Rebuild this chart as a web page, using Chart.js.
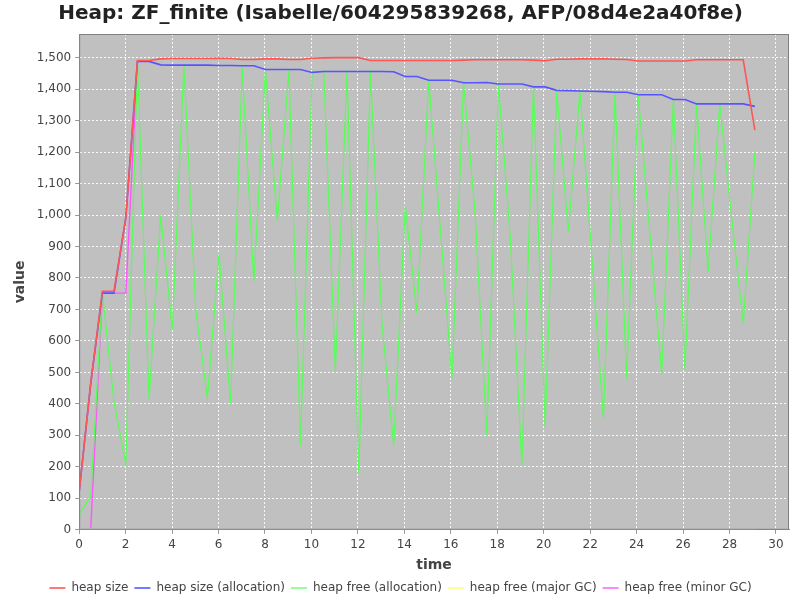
<!DOCTYPE html>
<html lang="en">
<head>
  <meta charset="UTF-8">
  <title>Heap: ZF_finite</title>
  <script src="https://cdn.jsdelivr.net/npm/chart.js"></script>
  <style>
    html, body {
      margin: 0;
      padding: 0;
      background: #fff;
    }
    #chart {
      display: block;
    }
  </style>
</head>
<body>
  <canvas id="chart" width="800" height="600"></canvas>

  <script>
    var times = [0, 0.5, 1.0, 1.5, 2.01, 2.51, 3.01, 3.51, 4.01, 4.51,
      5.02, 5.52, 6.02, 6.52, 7.02, 7.52, 8.02, 8.53, 9.03, 9.53,
      10.03, 10.53, 11.03, 11.53, 12.04, 12.54, 13.04, 13.54, 14.04, 14.54,
      15.05, 15.55, 16.05, 16.55, 17.05, 17.55, 18.05, 18.56, 19.06, 19.56,
      20.06, 20.56, 21.06, 21.56, 22.07, 22.57, 23.07, 23.57, 24.07, 24.57,
      25.08, 25.58, 26.08, 26.58, 27.08, 27.58, 28.08, 28.59, 29.09];

    var heapSize = [120, 466, 758, 758, 992, 1491, 1491, 1496, 1497, 1497,
      1497, 1497, 1498, 1497, 1494, 1494, 1496, 1496, 1494, 1494,
      1498, 1499, 1500, 1500, 1500, 1491, 1491, 1491, 1491, 1491,
      1491, 1491, 1491, 1492, 1493, 1493, 1493, 1493, 1493, 1492,
      1490, 1495, 1495, 1496, 1496, 1496, 1495, 1494, 1489, 1489,
      1489, 1489, 1489, 1493, 1493, 1493, 1493, 1493, 1270];

    var heapSizeAlloc = [120, 466, 752, 752, 992, 1488, 1488, 1477, 1476, 1476,
      1476, 1476, 1475, 1475, 1474, 1474, 1462, 1462, 1462, 1462,
      1453, 1456, 1456, 1456, 1456, 1456, 1456, 1455, 1440, 1440,
      1428, 1428, 1428, 1420, 1420, 1421, 1416, 1416, 1416, 1407,
      1407, 1396, 1395, 1394, 1393, 1392, 1390, 1390, 1382, 1382,
      1382, 1367, 1367, 1353, 1353, 1353, 1353, 1353, 1345];

    var heapFreeAlloc = [50, 107, 755, 406, 210, 1489, 413, 999, 635, 1475,
      700, 418, 875, 402, 1470, 788, 1460, 981, 1459, 269,
      1452, 1456, 503, 1454, 179, 1454, 652, 269, 1029, 689,
      1428, 955, 481, 1420, 1002, 301, 1414, 930, 205, 1406,
      327, 1394, 947, 1394, 870, 354, 1390, 481, 1382, 940,
      494, 1366, 508, 1353, 820, 1353, 1000, 654, 1199];

    var heapFreeMajor = [0, 0, 0, 0, 0, 0, 0, 0, 0, 0,
      0, 0, 0, 0, 0, 0, 0, 0, 0, 0,
      0, 0, 0, 0, 0, 0, 0, 0, 0, 0,
      0, 0, 0, 0, 0, 0, 0, 0, 0, 0,
      0, 0, 0, 0, 0, 0, 0, 0, 0, 0,
      0, 0, 0, 0, 0, 0, 0, 0, 0];

    var heapFreeMinor = [null, 5, 752, 752, 752, 1488];

    var seriesNames = ['heap size', 'heap size (allocation)', 'heap free (allocation)',
      'heap free (major GC)', 'heap free (minor GC)'];

    function points(vals) {
      var out = [];
      for (var i = 0; i < vals.length; i++) {
        if (vals[i] !== null) out.push({ x: times[i], y: vals[i] });
      }
      return out;
    }

    function series(name, vals, color, width) {
      return {
        label: name,
        data: points(vals),
        borderColor: color,
        backgroundColor: color,
        borderWidth: width,
        pointRadius: 0,
        fill: false,
        tension: 0
      };
    }

    // grey plot area with outline, like the original renderer
    var plotBackground = {
      id: 'plotBackground',
      beforeDraw: function(chart) {
        var a = chart.chartArea;
        var ctx = chart.ctx;
        ctx.save();
        ctx.fillStyle = '#c0c0c0';
        ctx.fillRect(a.left, a.top, a.right - a.left, a.bottom - a.top);
        ctx.restore();
      },
      afterDraw: function(chart) {
        var a = chart.chartArea;
        var ctx = chart.ctx;
        ctx.save();
        ctx.strokeStyle = '#808080';
        ctx.lineWidth = 1;
        ctx.strokeRect(a.left + 0.5, a.top + 0.5, a.right - a.left - 1, a.bottom - a.top - 1);
        ctx.restore();
      }
    };

    var font = "'DejaVu Sans', sans-serif";

    var ctx = document.getElementById('chart').getContext('2d');
    var chart = new Chart(ctx, {
      type: 'line',
      data: {
        datasets: [
          series(seriesNames[0], heapSize, '#ff5555', 1.6),
          series(seriesNames[1], heapSizeAlloc, '#5555ff', 1.6),
          series(seriesNames[2], heapFreeAlloc, '#55ff55', 1.2),
          series(seriesNames[3], heapFreeMajor, '#ffff55', 1.2),
          series(seriesNames[4], heapFreeMinor, '#ff55ff', 1.4)
        ]
      },
      options: {
        responsive: false,
        animation: false,
        devicePixelRatio: 1,
        layout: {
          padding: { left: 12, right: 11, top: 0, bottom: -4 }
        },
        scales: {
          x: {
            type: 'linear',
            min: 0,
            max: 30.56,
            title: {
              display: true,
              text: 'time',
              color: '#444',
              font: { family: font, size: 14, weight: 'bold' },
              padding: { top: 1, bottom: 2 }
            },
            ticks: {
              stepSize: 2,
              includeBounds: false,
              color: '#444',
              font: { family: font, size: 12 },
              maxRotation: 0,
              padding: 4
            },
            grid: {
              color: 'rgba(255,255,255,0.9)',
              lineWidth: 1,
              tickLength: 4,
              tickColor: '#999'
            },
            border: { display: true, color: '#999', dash: [2, 2] }
          },
          y: {
            min: 0,
            max: 1575,
            title: {
              display: true,
              text: 'value',
              color: '#444',
              font: { family: font, size: 14, weight: 'bold' },
              padding: { top: 0, bottom: 4 }
            },
            ticks: {
              stepSize: 100,
              includeBounds: false,
              color: '#444',
              font: { family: font, size: 12 },
              padding: 4
            },
            grid: {
              color: 'rgba(255,255,255,0.9)',
              lineWidth: 1,
              tickLength: 4,
              tickColor: '#999'
            },
            border: { display: true, color: '#999', dash: [2, 2] }
          }
        },
        plugins: {
          title: {
            display: true,
            text: 'Heap: ZF_finite (Isabelle/604295839268, AFP/08d4e2a40f8e)',
            color: '#222',
            font: { family: font, size: 20, weight: 'bold' },
            padding: { top: 2, bottom: 8 }
          },
          legend: {
            position: 'bottom',
            labels: {
              usePointStyle: true,
              pointStyle: 'line',
              pointStyleWidth: 16,
              boxHeight: 2,
              color: '#444',
              font: { family: font, size: 12 },
              padding: 6
            }
          },
          tooltip: { enabled: false }
        }
      },
      plugins: [plotBackground]
    });
  </script>
</body>
</html>
